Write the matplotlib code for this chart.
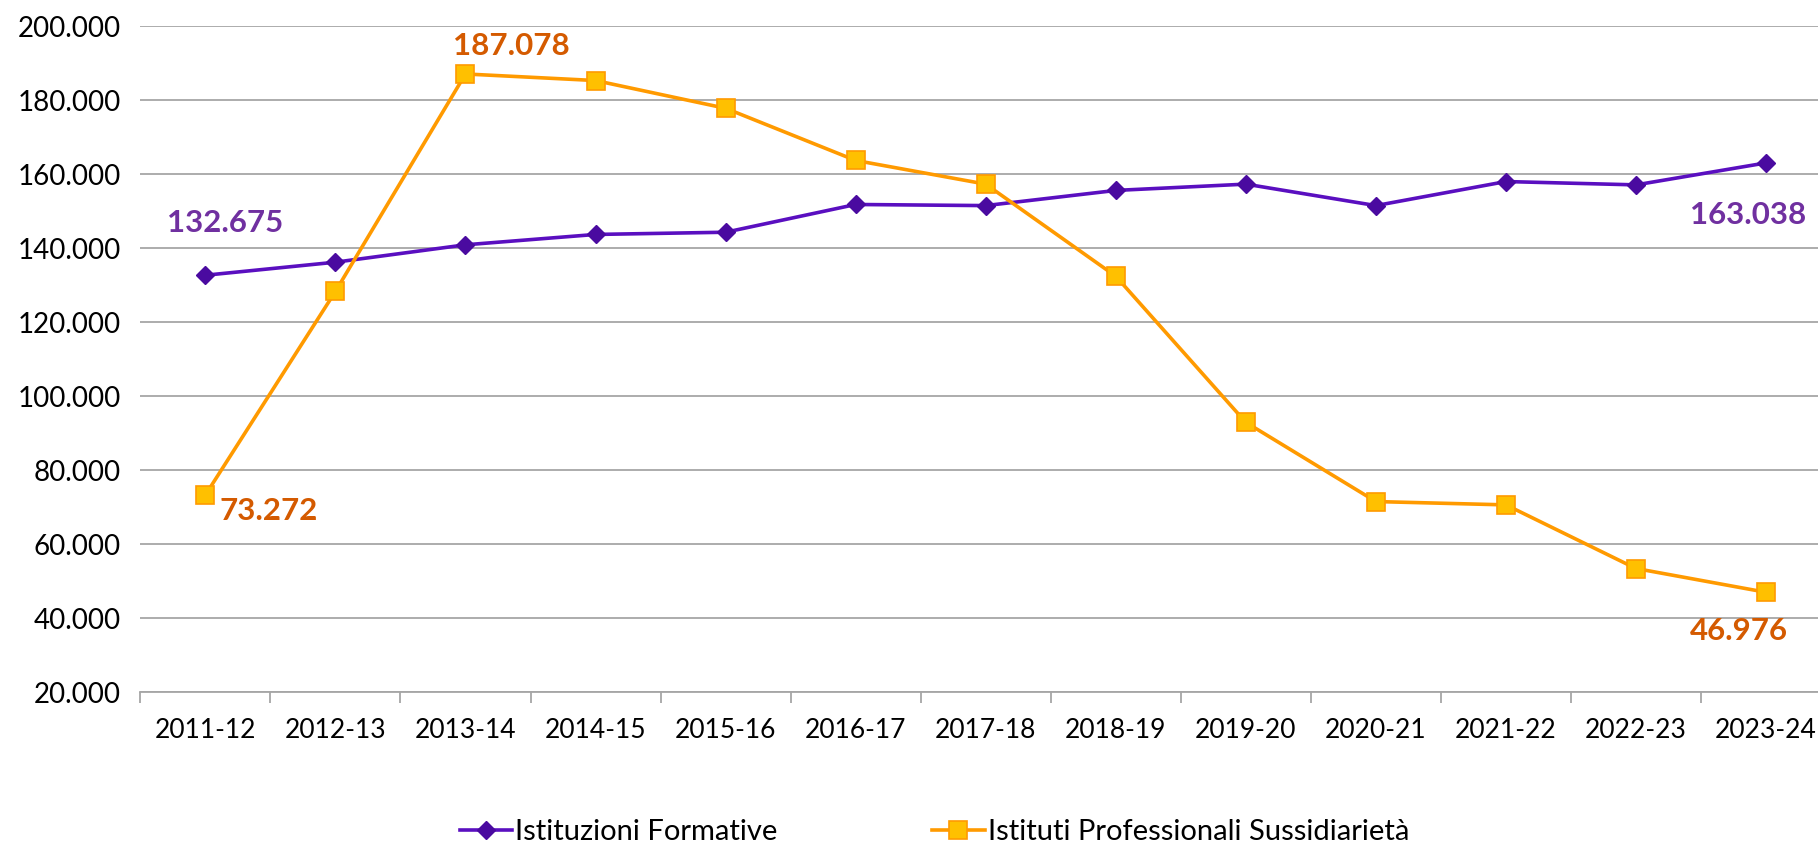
import matplotlib
matplotlib.use("Agg")
import matplotlib.pyplot as plt
from matplotlib.ticker import FuncFormatter

# ==================================================
# Data (values in units)
# ==================================================
years = ["2011-12", "2012-13", "2013-14", "2014-15", "2015-16", "2016-17", "2017-18",
         "2018-19", "2019-20", "2020-21", "2021-22", "2022-23", "2023-24"]
istituzioni = [132675, 136200, 140900, 143700, 144300, 151800, 151500,
               155600, 157300, 151500, 158000, 157100, 163038]
istituti = [73272, 128300, 187078, 185300, 177800, 163700, 157300,
            132400, 92900, 71500, 70600, 53400, 46976]

PURPLE_LINE = "#5A0FC0"
PURPLE_MARK = "#4A0AA0"
PURPLE_TXT = "#7030A0"
ORANGE_LINE = "#FF9A00"
ORANGE_FILL = "#FFC000"
ORANGE_TXT = "#D45A00"

plt.rcParams["font.family"] = ["Lato", "DejaVu Sans"]

fig = plt.figure(figsize=(18.18, 8.44), dpi=100)
ax = fig.add_axes([0.0772, 0.180, 0.930, 0.789])

x = list(range(len(years)))
ax.plot(x, istituzioni, color=PURPLE_LINE, lw=2.6, marker="D", ms=9,
        markerfacecolor=PURPLE_MARK, markeredgecolor=PURPLE_MARK,
        label="Istituzioni Formative", zorder=3)
ax.plot(x, istituti, color=ORANGE_LINE, lw=2.6, marker="s", ms=13,
        markerfacecolor=ORANGE_FILL, markeredgecolor=ORANGE_LINE, markeredgewidth=1.2,
        label="Istituti Professionali Sussidiarietà", zorder=3)

# Axes styling (Excel look)
ax.set_xlim(-0.5, len(years) - 0.5)
ax.set_ylim(20000, 200000)
ax.set_yticks(range(20000, 200001, 20000))
ax.yaxis.set_major_formatter(FuncFormatter(lambda v, p: f"{int(v):,}".replace(",", ".")))
ax.grid(axis="y", color="#A6A6A6", lw=1.3)
ax.set_axisbelow(True)
for s in ["left", "right", "top"]:
    ax.spines[s].set_visible(False)
ax.spines["bottom"].set_color("#A6A6A6")
ax.spines["bottom"].set_linewidth(1.3)

ax.set_xticks(x)
ax.set_xticklabels(years)
ax.set_xticks([i - 0.5 for i in range(len(years) + 1)], minor=True)
ax.tick_params(axis="x", which="major", length=0, pad=19, labelsize=19)
ax.tick_params(axis="x", which="minor", length=8, width=1.3, color="#A6A6A6")
ax.tick_params(axis="y", length=0, pad=14, labelsize=20)

# Data labels
lbl = dict(textcoords="offset pixels", ha="center", va="center",
           fontsize=22.5, fontweight="bold")
ax.annotate(f"{istituzioni[0]:,}".replace(",", "."), (0, istituzioni[0]),
            xytext=(20, 52), color=PURPLE_TXT, **lbl)
ax.annotate(f"{istituzioni[-1]:,}".replace(",", "."), (12, istituzioni[-1]),
            xytext=(-18, -52), color=PURPLE_TXT, **lbl)
ax.annotate(f"{istituti[0]:,}".replace(",", "."), (0, istituti[0]),
            xytext=(63, -16), color=ORANGE_TXT, **lbl)
ax.annotate(f"{istituti[2]:,}".replace(",", "."), (2, istituti[2]),
            xytext=(46, 28), color=ORANGE_TXT, **lbl)
ax.annotate(f"{istituti[-1]:,}".replace(",", "."), (12, istituti[-1]),
            xytext=(-27, -39), color=ORANGE_TXT, **lbl)

fig.legend(loc="center", bbox_to_anchor=(0.514, 0.014), ncol=2, frameon=False,
           fontsize=21, handlelength=1.8, handletextpad=0.1, columnspacing=5.3)

fig.savefig("out.png", dpi=100)
